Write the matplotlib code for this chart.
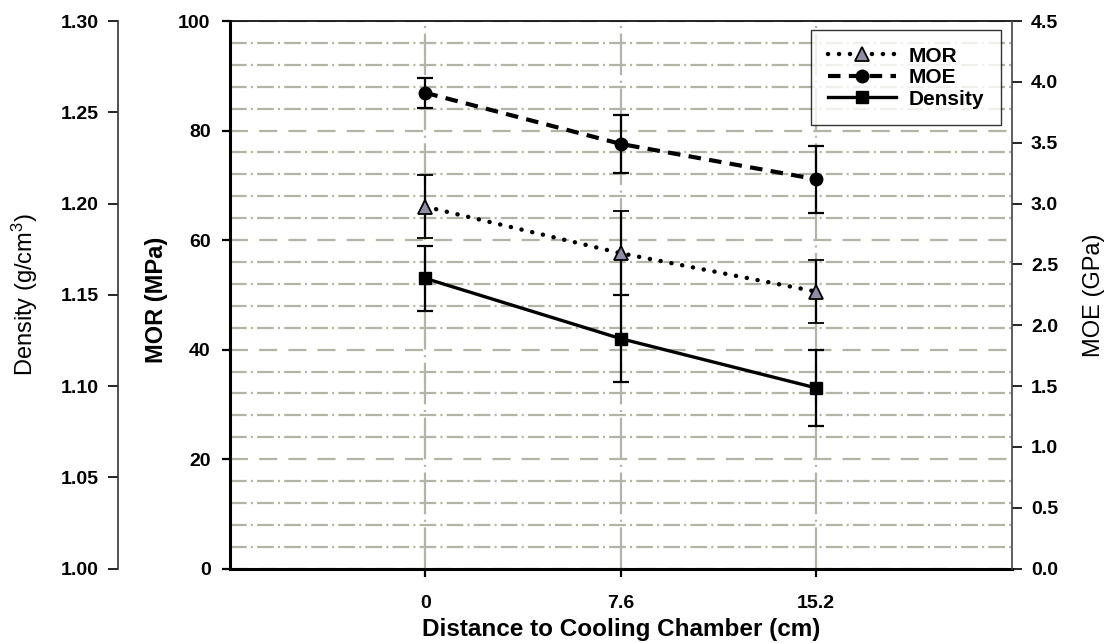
import numpy as np
import matplotlib
matplotlib.use('Agg')
import matplotlib.pyplot as plt
from matplotlib.lines import Line2D
from matplotlib.ticker import MultipleLocator

plt.rcParams['font.family'] = ['Liberation Sans', 'DejaVu Sans']
plt.rcParams['mathtext.fontset'] = 'custom'
plt.rcParams['mathtext.rm'] = 'Liberation Sans'
plt.rcParams['mathtext.default'] = 'regular'
plt.rcParams['lines.scale_dashes'] = False

# ── data ───────────────────────────────────────────────
distance = [0, 7.6, 15.2]
mor = [66.1, 57.6, 50.6]          # MPa
mor_err = [5.8, 7.7, 5.7]
moe = [3.91, 3.49, 3.20]          # GPa
moe_err = [0.125, 0.235, 0.275]
density = [1.159, 1.126, 1.099]   # g/cm3
density_err = [0.018, 0.024, 0.021]

moe_ticks = np.arange(0, 4.51, 0.5)
den_ticks = np.arange(1.00, 1.301, 0.05)

GRID = '#b4b4a6'
TRI = '#8e8ea6'
TICK_FS = 14
LABEL_FS = 17

MOR_STYLE = dict(color='black', lw=3.2, ls=(0, (0.1, 7.8)), dash_capstyle='round',
                 marker='^', ms=9.5, mfc=TRI, mec='black', mew=1.3)
MOE_STYLE = dict(color='black', lw=3, ls=(0, (9, 6)), marker='o', ms=9,
                 mfc='black', mec='black')
DEN_STYLE = dict(color='black', lw=2.4, ls='-', marker='s', ms=8.5,
                 mfc='black', mec='black')
ERR = dict(ecolor='black', elinewidth=1.6, capsize=5.5, capthick=1.6, zorder=4)

fig = plt.figure(figsize=(11.06, 6.43), dpi=100)
fig.patch.set_facecolor('white')
ax = fig.add_axes([0.208, 0.1156, 0.7066, 0.8517])

ax.set_xlim(-7.6, 22.8)
ax.set_ylim(0, 100)
ax.set_xticks(distance)
ax.set_xticklabels(['0', '7.6', '15.2'])
ax.yaxis.set_major_locator(MultipleLocator(20))
ax.yaxis.set_minor_locator(MultipleLocator(4))

# grid: dashed at 20 MPa, dash-dot every 4 MPa, dash-dot verticals at the sampled distances
ax.grid(True, which='major', axis='y', color=GRID, lw=1.6, ls=(0, (13, 8)))
ax.grid(True, which='minor', axis='y', color=GRID, lw=1.6, ls=(0, (12, 3, 1.5, 3)))
for d in distance:
    ax.axvline(d, color=GRID, lw=1.6, ls=(0, (30, 4, 1.5, 4)), zorder=0.5)
ax.set_axisbelow(True)
ax.tick_params(axis='y', which='minor', length=0)

for s in ['left', 'bottom']:
    ax.spines[s].set_linewidth(2.2)
ax.spines['top'].set_linewidth(1.2)
ax.spines['right'].set_visible(False)

ax.tick_params(axis='both', which='major', direction='out', length=6, width=1.6,
               labelsize=TICK_FS)
ax.tick_params(axis='y', pad=8)
ax.tick_params(axis='x', pad=13)
for lab in ax.get_xticklabels() + ax.get_yticklabels():
    lab.set_fontweight('bold')

ax.errorbar(distance, mor, yerr=mor_err, **MOR_STYLE, **ERR)

# right axis: MOE
ax_moe = ax.twinx()
ax_moe.set_ylim(0, 4.5)
ax_moe.set_yticks(moe_ticks)
ax_moe.set_yticklabels([f'{v:.1f}' for v in moe_ticks])
ax_moe.spines['right'].set_color('#444444')
ax_moe.spines['right'].set_linewidth(1.2)
for s in ['left', 'top', 'bottom']:
    ax_moe.spines[s].set_visible(False)
ax_moe.tick_params(axis='y', direction='out', length=7, width=1.2,
                   labelsize=TICK_FS, pad=7)
for lab in ax_moe.get_yticklabels():
    lab.set_fontweight('bold')
ax_moe.errorbar(distance, moe, yerr=moe_err, **MOE_STYLE, **ERR)
ax_moe.set_ylabel('MOE (GPa)', fontsize=LABEL_FS)
ax_moe.yaxis.set_label_coords(1.092, 0.5)

# outer left axis: density, spine 112 px left of the MOR axis
ax_den = ax.twinx()
ax_den.set_ylim(1.00, 1.30)
ax_den.yaxis.set_ticks_position('left')
ax_den.yaxis.set_label_position('left')
ax_den.set_yticks(den_ticks)
ax_den.set_yticklabels([f'{v:.2f}' for v in den_ticks])
ax_den.spines['left'].set_position(('outward', 112 * 72 / 100))
ax_den.spines['left'].set_color('#333333')
ax_den.spines['left'].set_linewidth(1.2)
for s in ['right', 'top', 'bottom']:
    ax_den.spines[s].set_visible(False)
ax_den.tick_params(axis='y', direction='out', length=7, width=1.2,
                   labelsize=TICK_FS, pad=7)
for lab in ax_den.get_yticklabels():
    lab.set_fontweight('bold')
ax_den.errorbar(distance, density, yerr=density_err, **DEN_STYLE, **ERR)
ax_den.set_ylabel('Density (g/cm$^3$)', fontsize=LABEL_FS)
ax_den.yaxis.set_label_coords(-0.243, 0.5)

ax.set_ylabel('MOR (MPa)', fontsize=LABEL_FS, fontweight='bold')
ax.yaxis.set_label_coords(-0.079, 0.49)
ax.set_xlabel('Distance to Cooling Chamber (cm)', fontsize=17.5, fontweight='bold',
              labelpad=4)

handles = [
    Line2D([], [], **MOR_STYLE),
    Line2D([], [], **MOE_STYLE),
    Line2D([], [], **DEN_STYLE),
]
leg = ax_den.legend(handles, ['MOR', 'MOE', 'Density'], loc='upper right',
                    bbox_to_anchor=(0.9866, 0.9836), borderaxespad=0,
                    frameon=True, fancybox=False,
                    handlelength=3.3, handletextpad=0.6, labelspacing=0.12,
                    borderpad=0.8, prop={'weight': 'bold', 'size': 15})
leg.get_frame().set_edgecolor('black')
leg.get_frame().set_linewidth(1.0)
leg.set_zorder(10)

fig.savefig('out.png', dpi=100)
